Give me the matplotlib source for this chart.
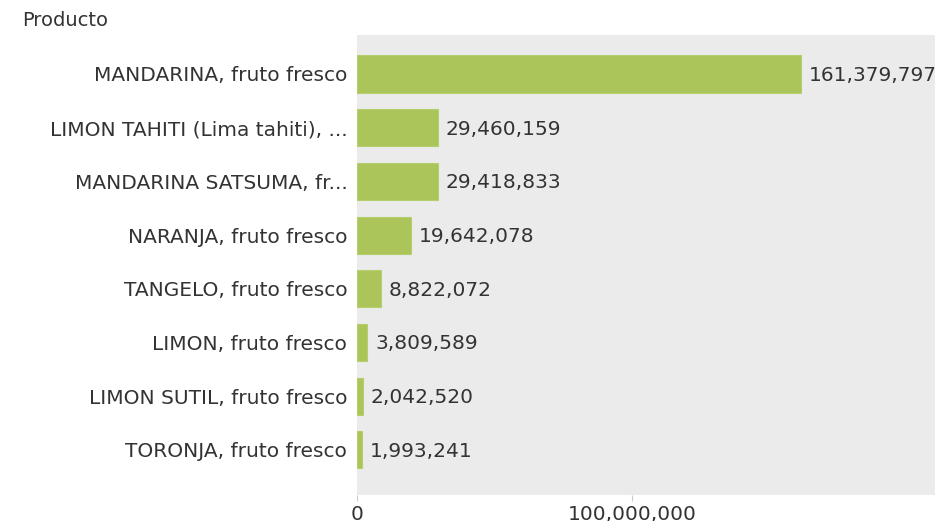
import matplotlib.pyplot as plt

products = [
    "MANDARINA, fruto fresco",
    "LIMON TAHITI (Lima tahiti), ...",
    "MANDARINA SATSUMA, fr...",
    "NARANJA, fruto fresco",
    "TANGELO, fruto fresco",
    "LIMON, fruto fresco",
    "LIMON SUTIL, fruto fresco",
    "TORONJA, fruto fresco",
]
values = [161379797, 29460159, 29418833, 19642078, 8822072, 3809589, 2042520, 1993241]
x_ticks = [0, 100000000]

BAR = "#abc55a"
BG = "#ebebeb"
TXT = "#333333"
FS = 14.5


def main():
    plt.rcParams["font.family"] = ["DejaVu Sans"]
    fig = plt.figure(figsize=(9.35, 5.21), dpi=100)
    # plot area: x 357..935, y 35..495 (pixels)
    ax = fig.add_axes([357 / 935, 1 - 495 / 521, (935 - 357) / 935, 460 / 521])
    ax.set_facecolor(BG)

    ypos = list(range(len(products)))
    ax.barh(ypos, values, height=0.69, color=BAR, edgecolor="#b5cf6c", linewidth=0.8)
    for y, v in zip(ypos, values):
        ax.annotate(f"{v:,}", (v, y), xytext=(5.5, -1), textcoords="offset points",
                    va="center", ha="left", fontsize=FS, color=TXT)

    ax.set_xlim(0, 210000000)
    ax.set_ylim(7.84, -0.726)
    ax.set_yticks(ypos)
    ax.set_yticklabels(products, fontsize=FS, color=TXT)
    ax.set_xticks(x_ticks)
    ax.set_xticklabels([f"{t:,}" for t in x_ticks], fontsize=FS, color=TXT)
    ax.tick_params(axis="y", length=0, pad=7)
    ax.tick_params(axis="x", length=4, color="#cccccc", pad=3.5)
    for s in ax.spines.values():
        s.set_visible(False)

    fig.text(22 / 935, 1 - 21 / 521, "Producto", fontsize=14, color=TXT,
             ha="left", va="center")

    fig.savefig("out.png", dpi=100)


if __name__ == "__main__":
    main()
